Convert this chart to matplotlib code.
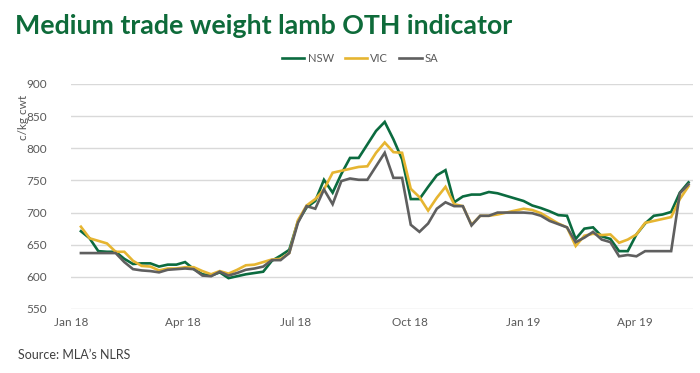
import numpy as np
import pandas as pd
import matplotlib
matplotlib.use("Agg")
import matplotlib.pyplot as plt
import matplotlib.dates as mdates

# weekly indicator, c/kg cwt
dates = pd.date_range("2018-01-09", periods=71, freq="7D")

nsw = [671, 660, 640, 639, 639, 628, 620, 621, 621, 616, 619, 619, 623, 612,
       604, 602, 607, 598, 601, 604, 606, 608, 625, 633, 642, 686, 708, 718,
       751, 731, 760, 785, 785, 806, 827, 841, 814, 783, 721, 721, 740, 758,
       766, 716, 725, 728, 728, 732, 730, 726, 722, 718, 711, 707, 702, 696,
       695, 659, 675, 677, 663, 659, 640, 640, 666, 683, 695, 697, 701, 731,
       747]
vic = [678, 660, 656, 652, 639, 639, 625, 617, 616, 610, 613, 613, 615, 615,
       609, 604, 609, 605, 611, 618, 619, 623, 627, 628, 637, 688, 711, 721,
       736, 762, 765, 768, 771, 772, 793, 809, 794, 793, 737, 724, 703, 723,
       740, 713, 710, 681, 695, 695, 697, 700, 703, 706, 704, 699, 691, 683,
       677, 648, 664, 667, 665, 666, 653, 658, 666, 684, 687, 690, 693, 721,
       741]
sa = [637, 637, 637, 637, 637, 623, 612, 610, 609, 607, 611, 612, 613, 612,
      602, 601, 608, 602, 606, 611, 613, 616, 626, 626, 637, 684, 710, 706,
      736, 713, 749, 753, 751, 751, 772, 793, 754, 754, 681, 670, 683, 706,
      716, 710, 710, 680, 695, 695, 700, 700, 700, 700, 699, 695, 687, 682,
      677, 654, 661, 670, 658, 654, 632, 634, 632, 640, 640, 640, 640, 730,
      744]

series = [("NSW", nsw, "#0b6b3f"), ("VIC", vic, "#e6b531"), ("SA", sa, "#5f5f5f")]
tick_dates = pd.to_datetime(["2018-01-01", "2018-04-01", "2018-07-01",
                             "2018-10-01", "2019-01-01", "2019-04-01"])
yticks = [550, 600, 650, 700, 750, 800, 850, 900]

plt.rcParams['font.family'] = ['Lato', 'DejaVu Sans']

fig = plt.figure(figsize=(7, 3.73), dpi=100)
ax = fig.add_axes([71 / 700, 64 / 373, 622 / 700, 225 / 373])

for name, vals, col in series:
    ax.plot(dates, vals, color=col, lw=1.9, label=name, solid_joinstyle="miter")

ax.set_ylim(550, 900)
ax.set_yticks(yticks)
x0 = mdates.date2num(pd.Timestamp("2018-01-01"))
ax.set_xlim(x0, x0 + 622 / 1.24)
ax.set_xticks(tick_dates)
ax.xaxis.set_major_formatter(mdates.DateFormatter("%b %y"))

ax.grid(axis="y", color="#d9d9d9", lw=1)
ax.set_axisbelow(True)
for s in ax.spines.values():
    s.set_visible(False)
ax.tick_params(axis="both", length=0, labelsize=8.5, labelcolor="#595959")
ax.tick_params(axis="y", pad=17)
ax.tick_params(axis="x", pad=6)

ax.set_ylabel("c/kg cwt", fontsize=8.5, color="#595959")
ax.yaxis.set_label_coords(-0.068, 0.85)

leg = ax.legend(loc="lower center", bbox_to_anchor=(0.465, 1.07), ncol=3,
                frameon=False, fontsize=8, handlelength=2.0, handletextpad=0.3,
                columnspacing=1.0, borderaxespad=0)
for t in leg.get_texts():
    t.set_color("#595959")

fig.text(15 / 700, 1 - 26 / 373, "Medium trade weight lamb OTH indicator",
         fontsize=19.3, fontweight="bold", color="#0e6b3a", va="center")
fig.text(18 / 700, 1 - 355 / 373, "Source: MLA\u2019s NLRS", fontsize=9,
         color="#404040", va="center")

fig.savefig("out.png", dpi=100)
